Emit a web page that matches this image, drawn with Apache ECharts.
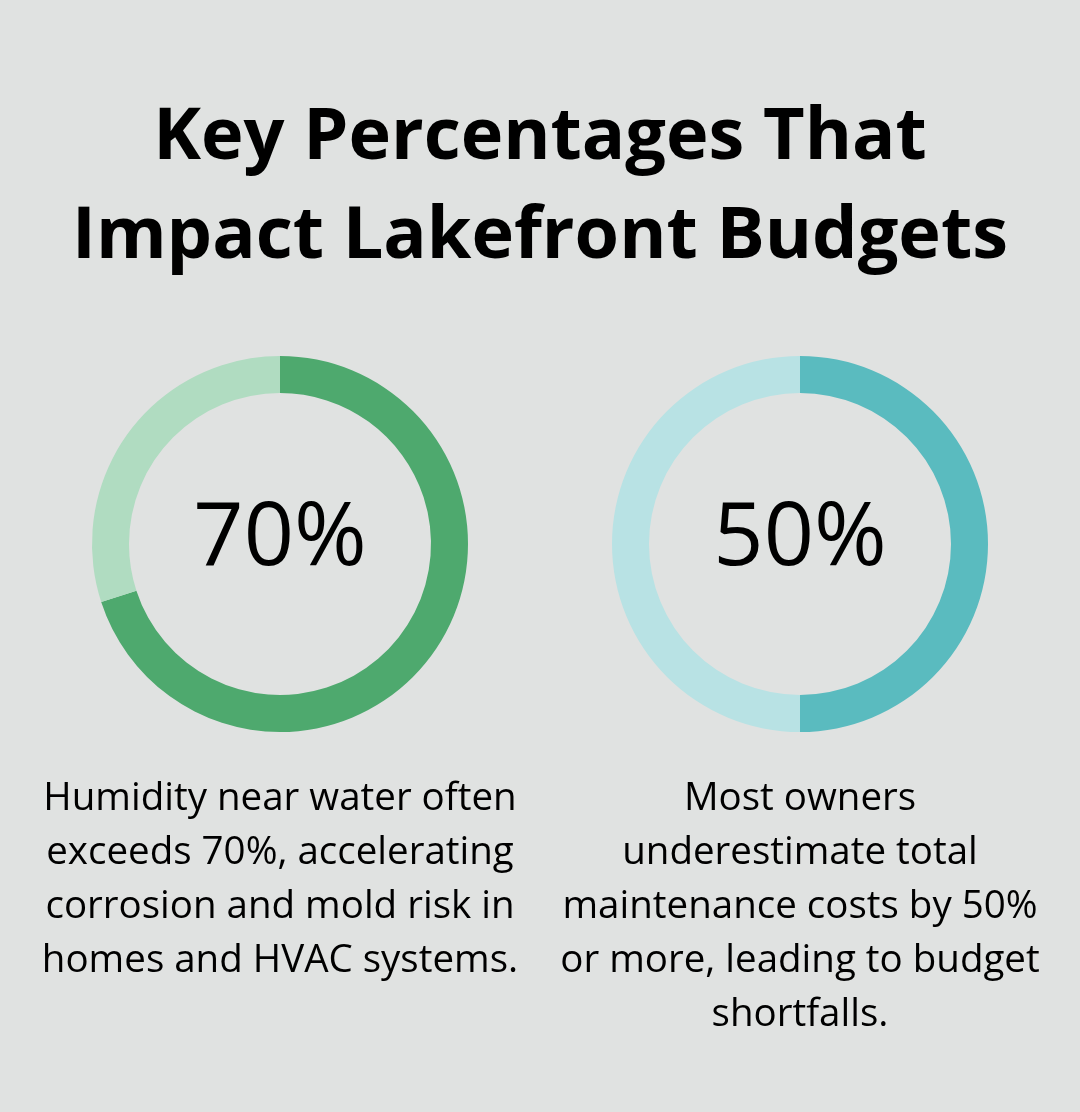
<!DOCTYPE html>
<html>
<head>
<meta charset="utf-8">
<script src="https://cdn.jsdelivr.net/npm/echarts@6/dist/echarts.min.js"></script>
<style>
  html, body { margin: 0; padding: 0; background: #e0e2e1; }
  #chart { width: 1080px; height: 1112px; }
</style>
</head>
<body>
<div id="chart"></div>
<script>
// Data
const titleLines = ['Key Percentages That', 'Impact Lakefront Budgets'];
const percents = [70, 50];
const centers = [280, 800];
const descriptions = [
  ['Humidity near water often', 'exceeds 70%, accelerating', 'corrosion and mold risk in', 'homes and HVAC systems.'],
  ['Most owners', 'underestimate total', 'maintenance costs by 50%', 'or more, leading to budget', 'shortfalls.']
];
const mainColors = ['#4ea96e', '#5abbbf'];
const restColors = ['#b0dcc1', '#b8e2e4'];

const FONT = '"Open Sans", "Noto Sans", sans-serif';

const chart = echarts.init(document.getElementById('chart'));

const series = percents.map((p, i) => ({
  type: 'pie',
  center: [centers[i], 544],
  radius: [151, 188],
  startAngle: 90,
  clockwise: true,
  silent: true,
  label: { show: false },
  labelLine: { show: false },
  emphasis: { disabled: true },
  animation: false,
  data: [
    { value: p, itemStyle: { color: mainColors[i] } },
    { value: 100 - p, itemStyle: { color: restColors[i] } }
  ]
}));

const texts = [];
titleLines.forEach((t, i) => {
  texts.push({
    type: 'text', x: 540, y: 138 + i * 99,
    style: { text: t, fill: '#000', font: 'bold 72px ' + FONT, textAlign: 'center', textVerticalAlign: 'middle' }
  });
});
percents.forEach((p, i) => {
  texts.push({
    type: 'text', x: centers[i], y: 540,
    style: { text: p + '%', fill: '#000', font: '88px ' + FONT, textAlign: 'center', textVerticalAlign: 'middle' }
  });
});
descriptions.forEach((lines, i) => {
  lines.forEach((line, j) => {
    texts.push({
      type: 'text', x: centers[i], y: 799 + j * 54,
      style: { text: line, fill: '#000', font: '38.5px ' + FONT, textAlign: 'center', textVerticalAlign: 'middle' }
    });
  });
});

chart.setOption({
  backgroundColor: '#e0e2e1',
  animation: false,
  series: series,
  graphic: texts
});
</script>
</body>
</html>
